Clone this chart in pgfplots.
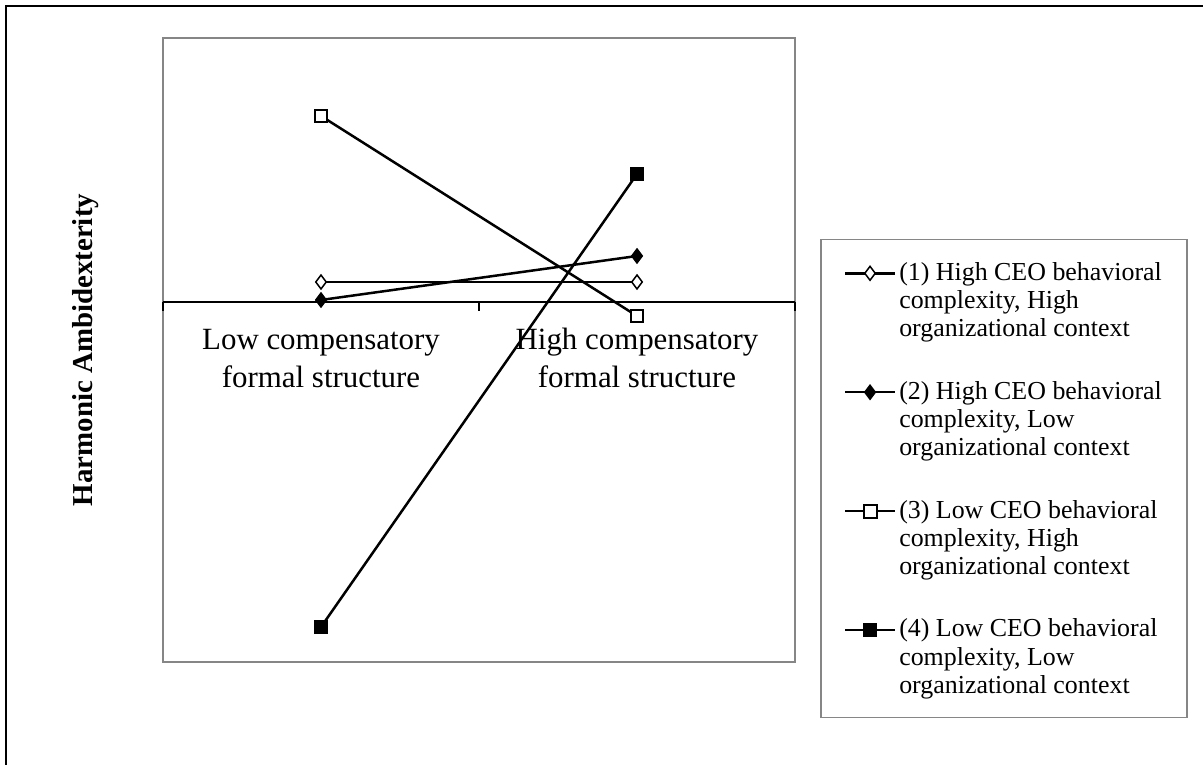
\documentclass[border=0pt]{standalone}
\usepackage{fontspec}
\setmainfont{Liberation Serif}
\usepackage{pgfplots}
\pgfplotsset{compat=1.18}
\definecolor{boxgray}{RGB}{134,134,134}
\begin{document}
\begin{tikzpicture}[x=1bp,y=1bp]
\useasboundingbox (0,0) rectangle (1203,765);
\draw[line width=2bp, black] (6,0) -- (6,759) -- (1203,759);
\node[rotate=90, anchor=base, font=\fontsize{29}{34}\selectfont\bfseries] at (92,415) {Harmonic Ambidexterity};
\begin{axis}[
  at={(163bp,103bp)}, anchor=south west,
  scale only axis, width=632bp, height=624bp,
  xmin=-0.5, xmax=1.5, ymin=-3.6, ymax=2.64,
  axis line style={boxgray, line width=2bp},
  xtick=\empty, ytick=\empty,
  clip=false,
  legend style={at={(1.0396,0.678)}, anchor=north west, draw=boxgray, line width=1.5bp,
    inner xsep=23bp, inner ysep=20.5bp, row sep=38.7bp, column sep=1bp,
    font=\fontsize{26}{28.5}\selectfont, cells={align=left, inner sep=0pt}},
  legend cell align=left,
  legend image code/.code={\draw[mark repeat=2,mark phase=2] plot coordinates {(0bp,27bp)(25bp,27bp)(50bp,27bp)};},
]
\draw[black, line width=1.5bp] (axis cs:-0.5,0) -- (axis cs:1.5,0);
\draw[black, line width=1.5bp] (axis cs:-0.5,0) -- (axis cs:-0.5,-0.09);
\draw[black, line width=1.5bp] (axis cs:0.5,0) -- (axis cs:0.5,-0.09);
\draw[black, line width=1.5bp] (axis cs:1.5,0) -- (axis cs:1.5,-0.09);
\node[anchor=base, font=\fontsize{31}{38}\selectfont] at (axis cs:0,-0.48) {Low compensatory};
\node[anchor=base, font=\fontsize{31}{38}\selectfont] at (axis cs:0,-0.86) {formal structure};
\node[anchor=base, font=\fontsize{31}{38}\selectfont] at (axis cs:1,-0.48) {High compensatory};
\node[anchor=base, font=\fontsize{31}{38}\selectfont] at (axis cs:1,-0.86) {formal structure};
\addplot[black, line width=2.5bp, mark=diamond*, mark size=7, mark options={fill=white, solid, line width=1.5bp}] coordinates {(0,0.20) (1,0.20)};
\addlegendentry{(1) High CEO behavioral\\complexity, High\\organizational context}
\addplot[black, line width=2.5bp, mark=diamond*, mark size=7, mark options={fill=black, solid, line width=1.5bp}] coordinates {(0,0.02) (1,0.46)};
\addlegendentry{(2) High CEO behavioral\\complexity, Low\\organizational context}
\addplot[black, line width=2.5bp, mark=square*, mark size=6.5, mark options={fill=white, solid, line width=2bp}] coordinates {(0,1.86) (1,-0.14)};
\addlegendentry{(3) Low CEO behavioral\\complexity, High\\organizational context}
\addplot[black, line width=2.5bp, mark=square*, mark size=6.5, mark options={fill=black, solid, line width=1.5bp}] coordinates {(0,-3.25) (1,1.28)};
\addlegendentry{(4) Low CEO behavioral\\complexity, Low\\organizational context}
\end{axis}
\end{tikzpicture}
\end{document}
